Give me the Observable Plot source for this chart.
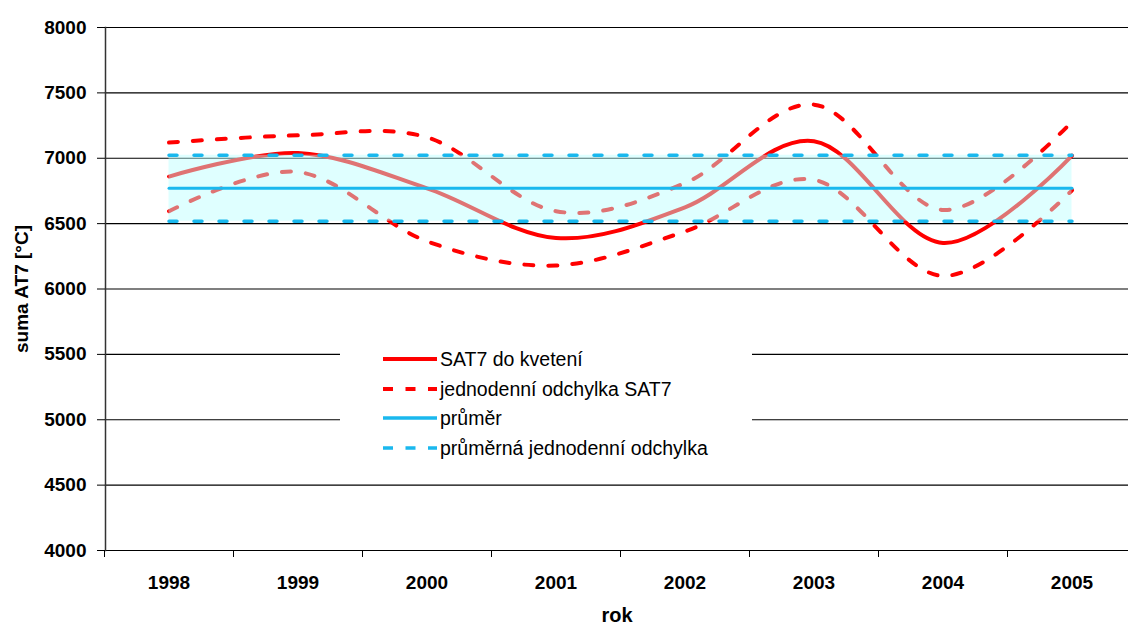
<!DOCTYPE html>
<html>
<head>
<meta charset="utf-8">
<script src="https://cdn.jsdelivr.net/npm/d3@7"></script>
<script src="https://cdn.jsdelivr.net/npm/@observablehq/plot@0.6"></script>
<style>
  html, body { margin: 0; padding: 0; background: #fff; overflow: hidden; }
  #wrap { position: relative; width: 1128px; height: 628px; }
  #legend { position: absolute; left: 340px; top: 338px; width: 412px; height: 126px; background: #fff;
            font-family: "Liberation Sans", Arial, sans-serif; font-size: 19.5px; color: #000; }
  .row { position: absolute; left: 0; height: 24px; }
  .row svg { position: absolute; left: 43px; top: 0; }
  .row span { position: absolute; left: 100px; top: 1px; white-space: nowrap; line-height: 22px; }
</style>
</head>
<body>
<div id="wrap"></div>
<script>
// ---- data ----
const years = [1998, 1999, 2000, 2001, 2002, 2003, 2004, 2005];
const sat7 = [6860, 7040, 6770, 6390, 6625, 7130, 6352, 7020];
const odchylkaHorni = [7120, 7175, 7160, 6595, 6810, 7410, 6605, 7280];
const odchylkaDolni = [6595, 6895, 6365, 6180, 6440, 6835, 6100, 6755];
const prumer = [6770, 6770, 6770, 6770, 6770, 6770, 6770, 6770];
const prumerHorni = [7022, 7022, 7022, 7022, 7022, 7022, 7022, 7022];
const prumerDolni = [6518, 6518, 6518, 6518, 6518, 6518, 6518, 6518];
const yTicks = [4000, 4500, 5000, 5500, 6000, 6500, 7000, 7500, 8000];
const legendLabels = ["SAT7 do kvetení", "jednodenní odchylka SAT7", "průměr", "průměrná jednodenní odchylka"];

const RED = "#ff0000";
const CYAN = "#1ab8ee";

const data = years.map((year, i) => ({
  year, sat: sat7[i], hi: odchylkaHorni[i], lo: odchylkaDolni[i],
  mean: prumer[i], mhi: prumerHorni[i], mlo: prumerDolni[i]
}));
const boundaries = [years[0] - 0.5, ...years.map(y => y + 0.5)];

const chart = Plot.plot({
  width: 1128,
  height: 628,
  marginTop: 27,
  marginBottom: 78,
  marginLeft: 105,
  marginRight: 0,
  style: { fontFamily: "Liberation Sans, Arial, sans-serif", fontSize: "19px", fontWeight: "bold", color: "#000", background: "#fff", overflow: "hidden" },
  x: { domain: [years[0] - 0.5, years[years.length - 1] + 0.5], range: [104, 1136] },
  y: { domain: [4000, 8000] },
  marks: [
    Plot.ruleY(yTicks, { stroke: "#000", strokeWidth: 1.2 }),
    Plot.line(data, { x: "year", y: "hi", stroke: RED, strokeWidth: 4, strokeDasharray: "9,15", curve: "cardinal", tension: 0 }),
    Plot.line(data, { x: "year", y: "lo", stroke: RED, strokeWidth: 4, strokeDasharray: "9,15", curve: "cardinal", tension: 0 }),
    Plot.line(data, { x: "year", y: "sat", stroke: RED, strokeWidth: 4, curve: "cardinal", tension: 0 }),
    Plot.areaY(data, { x: "year", y1: "mlo", y2: "mhi", fill: "#b8ffff", fillOpacity: 0.45 }),
    Plot.line(data, { x: "year", y: "mean", stroke: CYAN, strokeWidth: 3 }),
    Plot.line(data, { x: "year", y: "mhi", stroke: CYAN, strokeWidth: 3.5, strokeDasharray: "8,17" }),
    Plot.line(data, { x: "year", y: "mlo", stroke: CYAN, strokeWidth: 3.5, strokeDasharray: "8,17" }),
    Plot.frame({ anchor: "left", stroke: "#333", strokeWidth: 1.5 }),
    Plot.axisY({ ticks: yTicks, tickSize: 8, tickPadding: 11, tickFormat: d => String(d), label: null, stroke: "#000" }),
    Plot.axisX({ ticks: boundaries, tickSize: 7, tickFormat: () => "", label: null, stroke: "#000" }),
    Plot.axisX({ ticks: years, tickSize: 0, tickPadding: 25, tickFormat: d => String(d), label: null }),
    Plot.text(["suma AT7 [°C]"], { frameAnchor: "left", textAnchor: "middle", dx: -84, rotate: -90, fill: "#000" }),
    Plot.text(["rok"], { frameAnchor: "bottom", dy: 71, fill: "#000", fontSize: 20 })
  ]
});

const wrap = document.getElementById("wrap");
wrap.appendChild(chart);

// ---- legend ----
const legend = document.createElement("div");
legend.id = "legend";
const samples = [
  { color: RED, dash: null, w: 4 },
  { color: RED, dash: "10,12.5", w: 4 },
  { color: CYAN, dash: null, w: 3.5 },
  { color: CYAN, dash: "10,12.5", w: 3.5 }
];
legendLabels.forEach((label, i) => {
  const row = document.createElement("div");
  row.className = "row";
  row.style.top = (9 + i * 29.5) + "px";
  const s = samples[i];
  row.innerHTML = `<svg width="54" height="24"><line x1="0" x2="54" y1="12" y2="12" stroke="${s.color}" stroke-width="${s.w}" ${s.dash ? `stroke-dasharray="${s.dash}"` : ""}/></svg><span></span>`;
  row.querySelector("span").textContent = label;
  legend.appendChild(row);
});
wrap.appendChild(legend);
</script>
</body>
</html>
